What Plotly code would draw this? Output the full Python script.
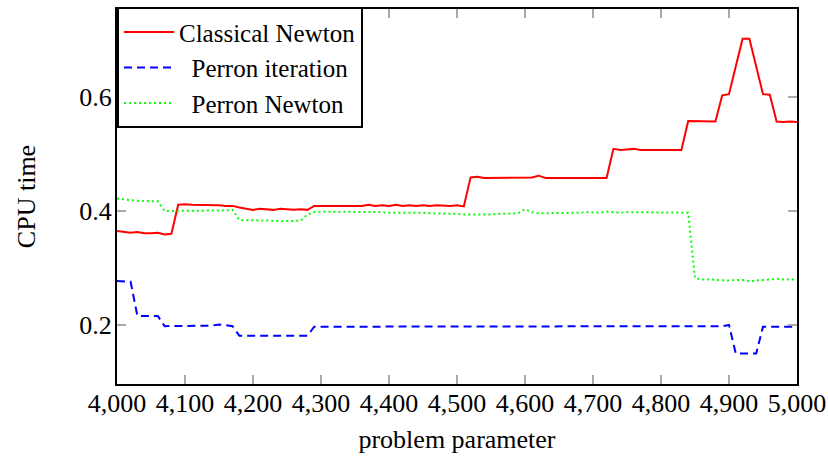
import plotly.graph_objects as go

x_vals = list(range(4000, 5001, 10))

classical_newton = [
    0.365, 0.364, 0.362, 0.363, 0.361, 0.361, 0.362, 0.359, 0.360,          # 4000-4080
    0.411, 0.412, 0.411, 0.411, 0.411, 0.410, 0.410, 0.409, 0.409,          # 4090-4170
    0.406, 0.404, 0.402, 0.404, 0.403, 0.402, 0.404, 0.403, 0.402, 0.403, 0.402,  # 4180-4280
    0.409, 0.409, 0.410, 0.409, 0.410, 0.409, 0.410, 0.409, 0.411, 0.409,  # 4290-4380
    0.410, 0.409, 0.411, 0.409, 0.410, 0.409, 0.410, 0.409, 0.410, 0.409,  # 4390-4480
    0.409, 0.410, 0.408,                                                    # 4490-4510
    0.459, 0.460, 0.458, 0.458, 0.459, 0.458, 0.458, 0.459, 0.458, 0.459,  # 4520-4610
    0.462, 0.458, 0.458, 0.458, 0.459, 0.458, 0.458, 0.458, 0.458, 0.458, 0.458,  # 4620-4720
    0.509, 0.507, 0.508, 0.509, 0.507, 0.507, 0.507, 0.507, 0.507, 0.508, 0.507,  # 4730-4830
    0.558, 0.558, 0.557, 0.557, 0.557,                                      # 4840-4880
    0.603, 0.605, 0.654, 0.702, 0.702, 0.654, 0.605, 0.604,                # 4890-4960
    0.557, 0.556, 0.557, 0.556,                                             # 4970-5000
]

perron_iteration = [
    0.277, 0.277, 0.276,                                                    # 4000-4020
    0.216, 0.216, 0.216, 0.216,                                             # 4030-4060
    0.198, 0.198, 0.198, 0.198, 0.198, 0.198, 0.198, 0.199, 0.201, 0.199, 0.198,  # 4070-4170
    0.181, 0.181, 0.181, 0.181, 0.181, 0.181, 0.181, 0.181, 0.181, 0.181, 0.181,  # 4180-4280
    0.197, 0.197, 0.197, 0.197, 0.197, 0.197, 0.197, 0.197, 0.197, 0.198,  # 4290-4380
    0.197, 0.197, 0.197, 0.197, 0.197, 0.197, 0.197, 0.197, 0.197, 0.197,  # 4390-4480
    0.197, 0.197, 0.197, 0.197, 0.198, 0.197, 0.197, 0.197, 0.197, 0.197,  # 4490-4580
    0.197, 0.197, 0.198, 0.197, 0.197, 0.197, 0.197, 0.197, 0.197, 0.197,  # 4590-4680
    0.197, 0.197, 0.197, 0.197, 0.197, 0.198, 0.197, 0.197, 0.197, 0.197,  # 4690-4780
    0.197, 0.197, 0.197, 0.197, 0.197, 0.197, 0.197, 0.197, 0.197, 0.197,  # 4790-4880
    0.198, 0.200,                                                           # 4890-4900
    0.150, 0.150, 0.150, 0.150,                                             # 4910-4940
    0.197, 0.197, 0.197, 0.197, 0.197, 0.197,                               # 4950-5000
]

perron_newton = [
    0.422, 0.420, 0.419, 0.418, 0.418, 0.418, 0.417,                        # 4000-4060
    0.400, 0.400, 0.401, 0.400, 0.400, 0.401, 0.400, 0.401, 0.401, 0.401, 0.402,  # 4070-4170
    0.384, 0.384, 0.384, 0.384, 0.384, 0.383, 0.382, 0.382, 0.382, 0.383, 0.394,  # 4180-4280
    0.398, 0.399, 0.399, 0.398, 0.399, 0.398, 0.398, 0.398, 0.399, 0.398,  # 4290-4380
    0.398, 0.397, 0.397, 0.398, 0.397, 0.397, 0.397, 0.396, 0.396, 0.396,  # 4390-4480
    0.396, 0.395, 0.394, 0.394, 0.393, 0.393, 0.394, 0.395, 0.395, 0.396,  # 4490-4580
    0.396, 0.403, 0.398, 0.396, 0.396, 0.396, 0.397, 0.396, 0.396, 0.397,  # 4590-4680
    0.398, 0.397, 0.397, 0.399, 0.398, 0.397, 0.398, 0.398, 0.397, 0.398,  # 4690-4780
    0.398, 0.397, 0.397, 0.398, 0.398, 0.397,                               # 4790-4840
    0.282, 0.280, 0.280, 0.279, 0.279, 0.278, 0.279, 0.279, 0.277, 0.278,  # 4850-4940
    0.278, 0.279, 0.281, 0.280, 0.280, 0.280,                               # 4950-5000
]

series_names = ["Classical Newton", "\u00a0\u00a0Perron iteration", "\u00a0\u00a0Perron Newton"]

x_ticks = list(range(4000, 5001, 100))
x_tick_text = [f"{v:,}" for v in x_ticks]
y_ticks = [0.2, 0.4, 0.6]
y_tick_text = ["0.2", "0.4", "0.6"]

FONT = "Liberation Serif"

fig = go.Figure()
fig.add_trace(go.Scatter(x=x_vals, y=classical_newton, mode="lines", name=series_names[0],
                         line=dict(color="#ff0000", width=2)))
fig.add_trace(go.Scatter(x=x_vals, y=perron_iteration, mode="lines", name=series_names[1],
                         line=dict(color="#0000ff", width=2, dash="8px,5px")))
fig.add_trace(go.Scatter(x=x_vals, y=perron_newton, mode="lines", name=series_names[2],
                         line=dict(color="#00ff00", width=2, dash="2px,3px")))

fig.update_layout(
    width=828, height=462,
    margin=dict(l=117, r=31, t=9, b=78, autoexpand=False),
    paper_bgcolor="white", plot_bgcolor="white",
    font=dict(family=FONT, size=26, color="black"),
    showlegend=True,
    legend=dict(x=0, y=1.005, xanchor="left", yanchor="top",
                bgcolor="white", bordercolor="black", borderwidth=2,
                font=dict(family=FONT, size=25, color="black"),
                itemwidth=50, tracegroupgap=0),
    xaxis=dict(
        range=[4000, 5000], tickvals=x_ticks, ticktext=x_tick_text,
        showline=True, linecolor="black", linewidth=2, mirror="ticks",
        ticks="inside", ticklen=9, tickwidth=1.5, tickcolor="#aaaaaa",
        showgrid=False, zeroline=False, automargin=False,
        tickfont=dict(family=FONT, size=26, color="black"),
        ticklabelstandoff=-5,
        title=dict(text="problem parameter", font=dict(family=FONT, size=26, color="black"), standoff=13),
    ),
    yaxis=dict(
        range=[0.0965, 0.7544], tickvals=y_ticks, ticktext=y_tick_text,
        showline=True, linecolor="black", linewidth=2, mirror="ticks",
        ticks="inside", ticklen=9, tickwidth=1.5, tickcolor="#aaaaaa",
        showgrid=False, zeroline=False, automargin=False,
        tickfont=dict(family=FONT, size=26, color="black"),
        ticklabelstandoff=-2,
        title=dict(text="CPU time", font=dict(family=FONT, size=26, color="black"), standoff=36),
    ),
)

fig.write_html("out.html")
